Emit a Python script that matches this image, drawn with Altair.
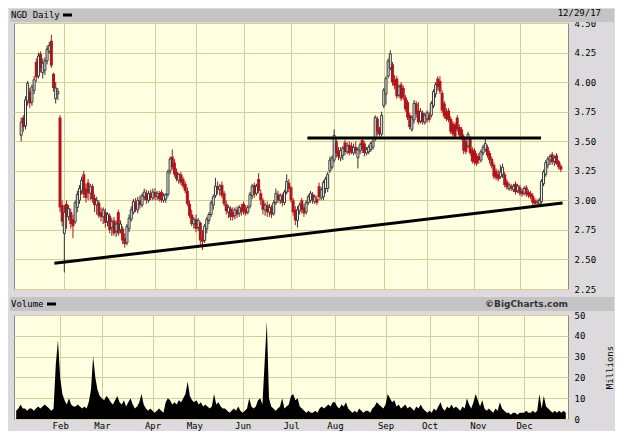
import altair as alt
import pandas as pd

# ---- data (prices in cents, volume in millions), one entry per trading day of 2017 ----
OPEN_C = [355,370,363,384,392,383,393,417,405,424,408,410,418,426,435,407,386,390,370,296,
          272,297,286,290,284,282,294,300,308,322,310,315,306,312,302,296,298,290,286,
          290,282,287,277,283,274,290,275,276,268,264,276,284,290,298,292,300,296,303,306,300,306,302,
          307,303,306,307,300,301,305,325,337,332,324,317,322,318,314,308,297,288,280,
          284,277,281,267,266,276,283,288,296,304,312,309,313,306,297,290,293,290,287,292,289,294,
          297,293,290,295,304,313,306,318,306,300,292,296,290,294,289,298,305,300,304,298,307,315,
          311,300,292,283,291,300,294,290,298,300,305,299,301,312,302,303,310,310,325,328,
          334,350,342,336,338,349,341,347,346,340,345,336,342,351,348,340,341,343,345,352,369,360,356,
          380,390,405,412,415,402,403,389,398,395,387,383,372,360,368,382,376,367,374,366,
          369,372,372,380,390,403,401,391,382,375,376,369,365,364,370,362,360,354,350,346,352,343,
          342,338,337,334,340,343,345,340,335,330,325,322,320,322,322,316,310,312,309,314,308,
          311,308,306,311,307,306,304,300,299,297,299,314,322,330,334,339,333,338,333,329]
HIGH_C = [370,372,388,401,395,398,405,420,425,426,420,421,431,434,440,408,400,395,372,300,
          296,300,296,293,288,300,308,313,320,325,314,318,314,314,305,303,300,294,294,
          293,290,289,285,286,283,292,283,278,272,280,288,295,301,302,303,304,306,310,309,308,309,310,
          310,308,308,309,306,306,326,337,343,335,327,323,324,320,316,311,300,292,286,
          288,285,282,275,280,286,290,300,305,319,316,314,316,308,300,296,295,294,294,295,296,297,
          299,296,296,307,314,315,314,323,309,302,298,299,297,296,300,310,308,306,306,309,322,318,
          312,302,295,295,298,302,297,300,305,308,307,305,304,315,311,317,320,324,337,338,
          360,352,345,345,346,351,349,350,349,348,350,345,349,353,350,345,347,350,352,372,371,362,375,
          395,405,420,427,417,406,405,398,400,397,389,385,374,372,385,384,383,378,376,374,
          376,375,384,394,400,405,405,393,384,378,378,371,367,366,372,364,362,356,352,358,354,345,
          344,340,340,343,347,353,347,342,337,332,327,326,330,331,324,318,315,314,314,316,314,
          313,310,312,313,309,308,306,302,301,302,318,326,334,337,339,341,338,340,334,331]
LOW_C = [350,358,360,380,378,380,390,400,403,408,403,406,415,424,412,392,382,385,290,278,
         239,276,283,276,268,280,290,297,305,302,298,300,300,298,290,288,285,282,280,
         277,278,272,270,270,269,270,272,263,260,262,273,282,288,290,289,293,294,300,297,298,300,300,
         300,300,299,298,298,298,303,322,326,320,316,314,313,310,306,295,285,278,276,
         273,274,262,258,264,272,280,286,292,302,305,304,302,295,288,285,283,283,284,285,286,287,
         288,287,288,293,301,302,304,306,296,288,287,286,286,285,287,296,298,297,295,296,305,307,
         298,287,279,277,288,289,286,288,296,298,297,297,296,300,300,300,306,307,323,326,
         332,336,334,333,334,338,339,338,339,338,339,327,339,340,337,338,339,341,343,350,355,352,354,
         378,381,403,410,397,394,386,387,384,385,375,368,360,358,365,370,364,365,364,364,
         366,366,370,378,387,393,390,374,369,367,366,356,354,352,358,353,351,339,339,344,338,331,
         330,329,331,332,338,341,336,331,327,318,317,316,318,319,311,309,308,308,307,305,306,
         304,303,304,303,302,301,296,295,295,295,297,312,320,327,330,330,329,330,326,324]
CLOSE_C = [366,362,385,399,382,396,402,404,422,412,416,418,428,431,414,395,395,392,294,282,
           290,286,293,280,278,298,305,310,317,305,302,306,312,301,296,300,287,286,292,
           281,288,275,282,272,280,272,280,266,263,278,285,292,299,292,300,296,304,307,300,306,302,307,
           303,306,301,300,304,305,324,335,328,322,318,322,315,312,308,297,287,280,284,
           276,283,266,265,278,284,288,298,303,312,309,312,304,297,291,294,286,286,292,288,294,290,
           291,289,294,305,312,305,312,308,300,292,296,290,294,288,298,306,300,304,298,307,316,310,
           300,290,283,292,296,292,289,298,303,306,300,303,298,303,309,315,318,322,334,336,
           355,340,337,342,344,341,346,340,341,345,342,343,347,343,340,343,345,348,350,370,358,356,372,
           393,403,418,424,400,397,388,396,386,387,377,370,362,370,382,373,366,375,366,372,
           374,368,382,392,398,396,392,376,371,369,368,358,356,354,360,355,353,342,341,356,340,333,
           332,331,334,341,345,348,338,334,329,320,319,318,324,328,313,311,313,310,312,307,312,
           306,305,310,305,304,303,298,297,298,300,316,324,332,335,337,332,336,331,328,326]
VOLUME_M = [4,5,7,5,5,4,5,5,4,5,6,5,6,7,6,5,4,5,
            26,38,20,12,
            9,7,10,7,6,6,7,6,5,6,5,
            8,14,30,20,14,11,
            10,9,11,10,8,7,9,11,8,7,9,6,8,10,7,5,6,8,12,7,5,4,5,
            4,3,4,5,4,3,8,10,9,7,8,7,9,8,10,12,18,11,9,
            8,9,7,8,6,7,6,5,6,12,7,8,6,5,5,4,3,4,5,4,6,4,
            3,4,5,10,6,5,6,9,10,7,27,47,10,6,5,4,5,6,10,5,6,7,
            11,12,9,10,6,5,4,3,4,3,3,4,3,5,6,5,6,7,6,8,
            8,6,5,7,6,8,5,4,3,4,3,5,4,3,4,4,3,5,6,8,7,6,5,
            7,12,10,8,9,6,7,5,6,7,5,6,5,4,6,5,7,5,4,3,
            4,3,5,4,6,8,5,4,6,5,7,5,6,5,4,6,5,10,7,5,8,12,
            9,6,9,5,4,5,4,3,5,4,8,5,4,3,3,2,3,3,2,3,3,
            3,4,3,3,4,3,4,12,5,11,6,5,4,3,4,3,4,3,4,3]

MONTH_NAMES = ["Feb", "Mar", "Apr", "May", "Jun", "Jul", "Aug", "Sep", "Oct", "Nov", "Dec"]
MONTH_START_IDX = [20, 39, 62, 81, 103, 125, 145, 168, 188, 210, 231]
PRICE_TICKS = [2.25, 2.50, 2.75, 3.00, 3.25, 3.50, 3.75, 4.00, 4.25, 4.50]
VOLUME_TICKS = [0, 10, 20, 30, 40, 50]
SUPPORT_IDX = [15.4, 250.8]
SUPPORT_PRICE = [2.467, 2.977]
RESIST_IDX = [132.6, 240.8]
RESIST_PRICE = [3.527, 3.527]

# ---- styling ----
BG = "#dcdadc"
STRIP = "#c4c4c4"
PLOT_BG = "#ffffe2"
GRID = "#d6cd98"
RED = "#b3141c"
UP_EDGE = "#333333"
MONO = "DejaVu Sans Mono"
W, HP, HV = 554, 266, 104
STRIP_RIGHT = 600

n = len(CLOSE_C)
df = pd.DataFrame({
    "i": list(range(n)),
    "open": [v / 100 for v in OPEN_C],
    "high": [v / 100 for v in HIGH_C],
    "low": [v / 100 for v in LOW_C],
    "close": [v / 100 for v in CLOSE_C],
    "vol": VOLUME_M,
})
df["dir"] = ["up" if c >= o else "down" for o, c in zip(df["open"], df["close"])]

lines_df = pd.DataFrame({
    "i": SUPPORT_IDX + RESIST_IDX,
    "p": SUPPORT_PRICE + RESIST_PRICE,
    "line": ["support"] * 2 + ["resistance"] * 2,
})
one = pd.DataFrame({"k": [0]})

xscale = alt.Scale(domain=[-1, 251], nice=False, zero=False)
yscale = alt.Scale(domain=[2.25, 4.5], nice=False, zero=False)


def x_price():
    return alt.X("i:Q", scale=xscale,
                 axis=alt.Axis(values=MONTH_START_IDX, labels=False, ticks=False,
                               domain=False, grid=True, title=None))


def y_price(field):
    return alt.Y(field, scale=yscale,
                 axis=alt.Axis(orient="right", values=PRICE_TICKS, format=".2f", grid=True,
                               ticks=False, domain=False, labelPadding=6, title=None,
                               labelOverlap=False, labelBound=False, labelFlush=False))


wicks = alt.Chart(df).mark_rule(strokeWidth=1).encode(
    x=x_price(),
    y=y_price("low:Q"),
    y2="high:Q",
    color=alt.Color("dir:N", scale=alt.Scale(domain=["up", "down"], range=[UP_EDGE, RED]),
                    legend=None),
)
bodies_down = alt.Chart(df).transform_filter("datum.dir == 'down'").mark_bar(
    size=3, color=RED).encode(x=x_price(), y=y_price("open:Q"), y2="close:Q")
bodies_up = alt.Chart(df).transform_filter("datum.dir == 'up'").mark_bar(
    size=2, fill="white", stroke=UP_EDGE, strokeWidth=1).encode(
    x=x_price(), y=y_price("open:Q"), y2="close:Q")
trend = alt.Chart(lines_df).mark_line(color="black", strokeWidth=3).encode(
    x=x_price(), y=y_price("p:Q"), detail="line:N")

top_strip = alt.Chart(one).mark_rect(color=STRIP).encode(
    x=alt.value(-4), x2=alt.value(STRIP_RIGHT), y=alt.value(-14), y2=alt.value(-1))
top_title = alt.Chart(one).mark_text(text="NGD Daily", align="left", baseline="alphabetic",
                                     font=MONO, fontSize=9, color="black").encode(
    x=alt.value(-3), y=alt.value(-5))
top_dash = alt.Chart(one).mark_rule(color="black", strokeWidth=3).encode(
    x=alt.value(49), x2=alt.value(58), y=alt.value(-8))
top_date = alt.Chart(one).mark_text(text="12/29/17", align="right", baseline="alphabetic",
                                    font=MONO, fontSize=9, color="black").encode(
    x=alt.value(587), y=alt.value(-7))

price = alt.layer(top_strip, top_title, top_dash, top_date,
                  wicks, bodies_down, bodies_up, trend).properties(width=W, height=HP)

label_expr = "[" + ",".join("'%s'" % m for m in MONTH_NAMES) + "][indexof([" + \
    ",".join(str(v) for v in MONTH_START_IDX) + "], datum.value)]"

vol_area = alt.Chart(df).mark_area(color="black", interpolate="linear").encode(
    x=alt.X("i:Q", scale=xscale,
            axis=alt.Axis(values=MONTH_START_IDX, labelExpr=label_expr, grid=True, ticks=False,
                          domain=False, labelPadding=2, title=None, labelOverlap=False)),
    y=alt.Y("vol:Q", scale=alt.Scale(domain=[0, 50], nice=False, zero=True),
            axis=alt.Axis(orient="right", values=VOLUME_TICKS, grid=True, ticks=False,
                          domain=False, labelPadding=6, labelOverlap=False, labelBound=False,
                          labelFlush=False,
                          title="Millions", titleAngle=270,
                          titleX=41, titleY=52, titleAlign="center", titleBaseline="middle",
                          titleFont=MONO, titleFontSize=9, titleFontWeight="normal",
                          titleColor="black")),
)
vol_strip = alt.Chart(one).mark_rect(color=STRIP).encode(
    x=alt.value(-4), x2=alt.value(STRIP_RIGHT), y=alt.value(-18), y2=alt.value(-4))
vol_title = alt.Chart(one).mark_text(text="Volume", align="left", baseline="alphabetic",
                                     font=MONO, fontSize=9, color="black").encode(
    x=alt.value(-3), y=alt.value(-8))
vol_dash = alt.Chart(one).mark_rule(color="black", strokeWidth=3).encode(
    x=alt.value(33), x2=alt.value(42), y=alt.value(-11))
vol_credit = alt.Chart(one).mark_text(text="\u00a9BigCharts.com", align="right",
                                      baseline="alphabetic", font="DejaVu Sans",
                                      fontSize=9, fontWeight="bold", color="#333333").encode(
    x=alt.value(554), y=alt.value(-8))

volume = alt.layer(vol_strip, vol_title, vol_dash, vol_credit, vol_area).properties(
    width=W, height=HV)

chart = alt.vconcat(price, volume, spacing=1).properties(
    padding={"left": 1, "top": 0, "right": 0, "bottom": 0},
    background=BG,
).configure_view(
    fill=PLOT_BG, stroke="#8a8a8a", strokeWidth=1
).configure_axis(
    labelFont=MONO, labelFontSize=9, labelColor="black", labelOverlap=False,
    gridColor=GRID, gridWidth=1, gridOpacity=1,
)

chart.save("out.html", embed_options={"renderer": "svg", "actions": False})
